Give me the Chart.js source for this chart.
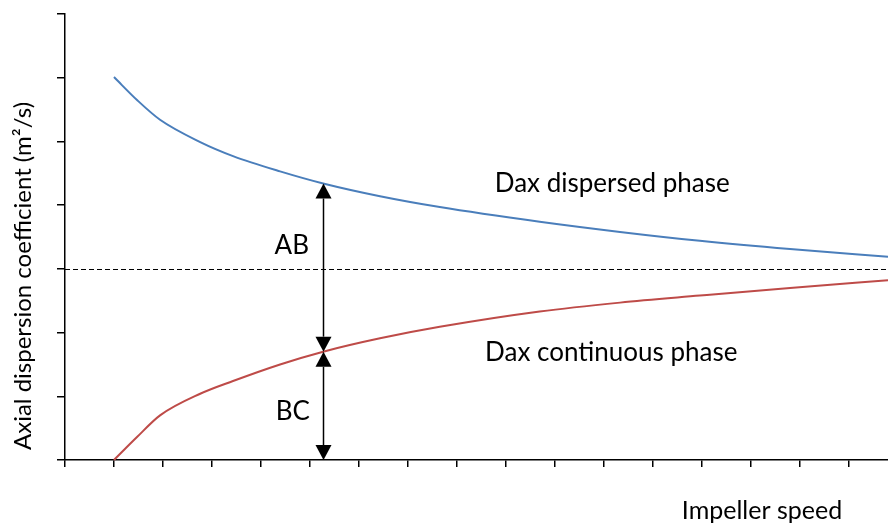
<!DOCTYPE html>
<html>
<head>
<meta charset="utf-8">
<script src="https://cdn.jsdelivr.net/npm/chart.js@4.4.0/dist/chart.umd.min.js"></script>
<style>
  html, body { margin: 0; padding: 0; background: #fff; }
  canvas { display: block; }
</style>
</head>
<body>
<canvas id="chart" width="888" height="525"></canvas>
<script>
// values (axis units = tick intervals, no labels shown)
const impellerSpeed = [1.0, 1.47, 1.94, 2.76, 3.43, 4.39, 5.27, 6.43, 7.65, 9.69, 11.33, 12.96, 14.8, 16.8];
const daxDispersed  = [6.01, 5.65, 5.34, 4.99, 4.77, 4.53, 4.34, 4.14, 3.97, 3.74, 3.58, 3.44, 3.31, 3.19];
const daxContinuous = [0.0, 0.36, 0.70, 1.04, 1.24, 1.50, 1.70, 1.91, 2.09, 2.33, 2.47, 2.58, 2.70, 2.82];

const referenceLevel = 3;          // dashed line
const arrowAt = 5.27;              // impeller speed where AB / BC are shown
const spanAB = [4.34, 1.70];
const spanBC = [1.70, 0];

const FONT = 'Lato, "Open Sans", sans-serif';

function toPoints(xs, ys) {
    return xs.map((v, i) => ({ x: v, y: ys[i] }));
}

function drawArrow(ctx, px, yTop, yBot) {
    const hw = 8, hh = 15;
    ctx.beginPath();
    ctx.moveTo(px, yTop + hh);
    ctx.lineTo(px, yBot - hh);
    ctx.stroke();
    // up head
    ctx.beginPath();
    ctx.moveTo(px, yTop);
    ctx.lineTo(px - hw, yTop + hh);
    ctx.lineTo(px + hw, yTop + hh);
    ctx.closePath();
    ctx.fill();
    // down head
    ctx.beginPath();
    ctx.moveTo(px, yBot);
    ctx.lineTo(px - hw, yBot - hh);
    ctx.lineTo(px + hw, yBot - hh);
    ctx.closePath();
    ctx.fill();
}

const annotations = {
    id: 'annotations',
    afterDatasetsDraw(chart) {
        const { ctx, chartArea: area, scales: { x, y } } = chart;
        ctx.save();

        // dashed reference line
        const yd = Math.round(y.getPixelForValue(referenceLevel)) + 0.5;
        ctx.strokeStyle = '#000';
        ctx.lineWidth = 1.2;
        ctx.setLineDash([5, 3]);
        ctx.beginPath();
        ctx.moveTo(area.left, yd);
        ctx.lineTo(area.right, yd);
        ctx.stroke();
        ctx.setLineDash([]);

        // AB and BC double arrows
        const ax = Math.round(x.getPixelForValue(arrowAt)) + 0.5;
        ctx.fillStyle = '#000';
        ctx.lineWidth = 1.5;
        drawArrow(ctx, ax, y.getPixelForValue(spanAB[0]), y.getPixelForValue(spanAB[1]));
        drawArrow(ctx, ax, y.getPixelForValue(spanBC[0]), y.getPixelForValue(spanBC[1]));

        // text
        ctx.fillStyle = '#000';
        ctx.textAlign = 'center';
        ctx.textBaseline = 'alphabetic';
        ctx.font = '26px ' + FONT;
        ctx.fillText('AB', x.getPixelForValue(4.63), y.getPixelForValue(3.24));
        ctx.fillText('BC', x.getPixelForValue(4.65), y.getPixelForValue(0.63));
        ctx.fillText('Dax dispersed phase', x.getPixelForValue(11.17), y.getPixelForValue(4.2));
        ctx.fillText('Dax continuous phase', x.getPixelForValue(11.15), y.getPixelForValue(1.55));

        // axis titles
        ctx.font = '25px ' + FONT;
        ctx.fillText('Impeller speed', 762, 519);
        ctx.translate(31, 276);
        ctx.rotate(-Math.PI / 2);
        ctx.font = '24px ' + FONT;
        ctx.fillText('Axial dispersion coefficient (m\u00B2/s)', 0, 0, 364);

        ctx.restore();
    }
};

new Chart(document.getElementById('chart'), {
    type: 'line',
    data: {
        datasets: [
            {
                label: 'Dax dispersed phase',
                data: toPoints(impellerSpeed, daxDispersed),
                borderColor: '#4A7EBB',
                borderWidth: 2,
                pointRadius: 0,
                cubicInterpolationMode: 'monotone',
                fill: false,
                clip: false
            },
            {
                label: 'Dax continuous phase',
                data: toPoints(impellerSpeed, daxContinuous),
                borderColor: '#BE4B48',
                borderWidth: 2,
                pointRadius: 0,
                cubicInterpolationMode: 'monotone',
                fill: false,
                clip: false
            }
        ]
    },
    options: {
        responsive: false,
        animation: false,
        devicePixelRatio: 1,
        layout: { padding: { top: 14, left: 0, right: 0, bottom: 0 } },
        plugins: {
            legend: { display: false },
            tooltip: { enabled: false }
        },
        scales: {
            x: {
                type: 'linear',
                min: 0,
                max: 16.8,
                ticks: { display: false, stepSize: 1, includeBounds: false },
                grid: { drawOnChartArea: false, drawTicks: true, tickLength: 7, color: '#000', lineWidth: 1.5 },
                border: { color: '#000', width: 1.5 },
                afterFit(scale) { scale.height = 65; }
            },
            y: {
                type: 'linear',
                min: 0,
                max: 7,
                ticks: { display: false, stepSize: 1 },
                grid: { drawOnChartArea: false, drawTicks: true, tickLength: 8, color: '#000', lineWidth: 1.5 },
                border: { color: '#000', width: 1.5 },
                afterFit(scale) { scale.width = 65; }
            }
        }
    },
    plugins: [annotations]
});
</script>
</body>
</html>
